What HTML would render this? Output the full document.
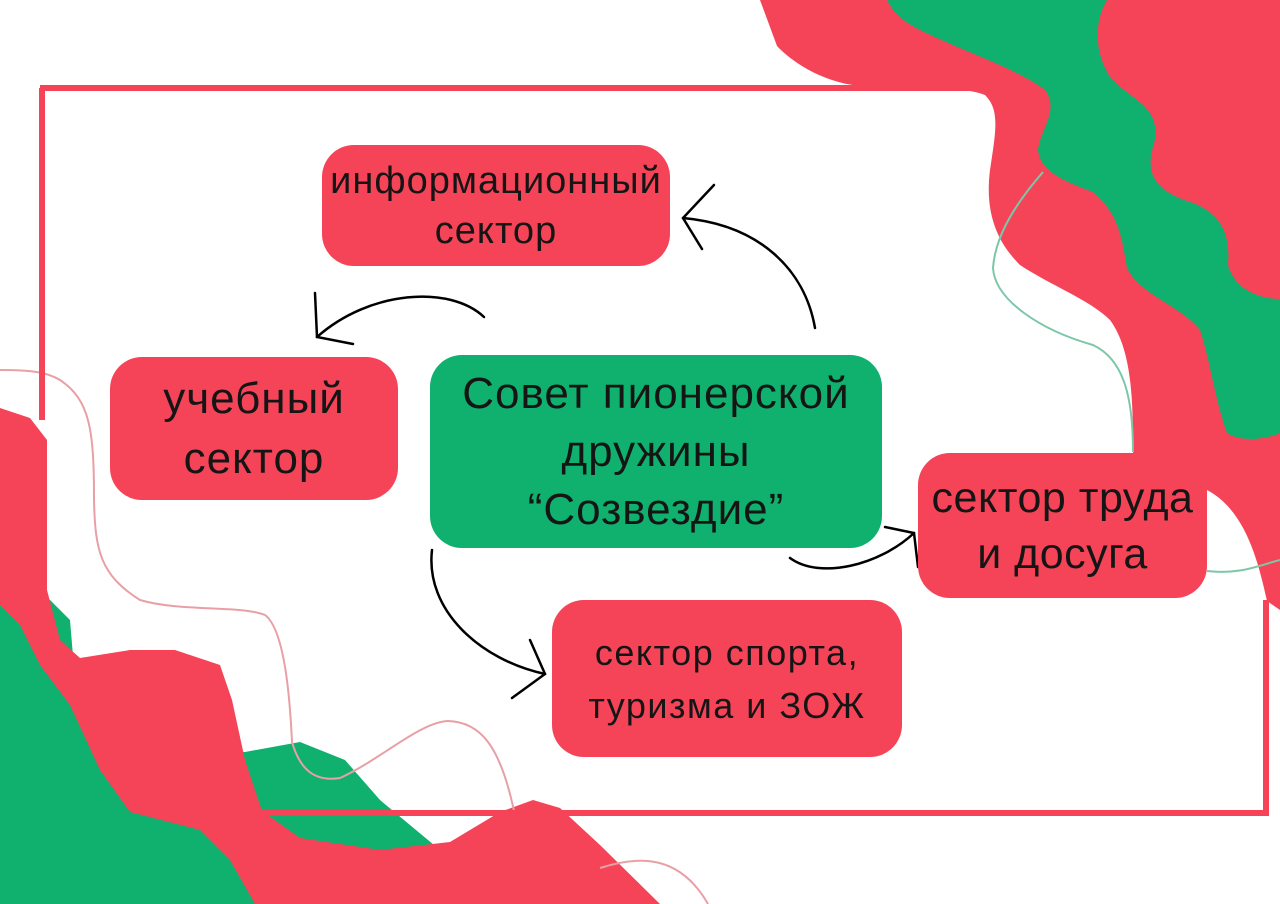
<!DOCTYPE html>
<html><head><meta charset="utf-8"><style>
html,body{margin:0;padding:0;background:#fff}
body{width:1280px;height:904px;position:relative;overflow:hidden;font-family:"Liberation Sans","DejaVu Sans",sans-serif}
.b{position:absolute;border-radius:32px;display:flex;align-items:center;justify-content:center;text-align:center;color:#151515;white-space:nowrap}
.r{background:#f54458}.g{background:#10b06f}
svg{position:absolute;left:0;top:0}
</style></head><body>
<svg width="1280" height="904" viewBox="0 0 1280 904">
<path d="M760,0 L1280,0 L1280,610 L1267,601 C1258,560 1245,510 1207,490 C1160,470 1135,470 1133,452 C1133,400 1132,350 1110,320 C1090,300 1050,285 1020,265 C995,240 985,210 990,170 C996,130 1000,110 985,95 C960,85 900,88 860,86 C820,82 790,60 777,46 Z" fill="#f54458"/>
<path d="M887,0 L1107,0 C1095,20 1093,50 1110,77 C1130,100 1160,105 1155,140 C1145,170 1150,190 1193,203 C1225,215 1230,240 1228,265 C1235,290 1260,299 1280,299 L1280,433 C1265,440 1240,442 1227,433 C1215,400 1210,360 1200,330 C1180,305 1140,295 1127,268 C1122,240 1120,215 1093,192 C1060,180 1040,170 1038,150 C1040,130 1060,110 1045,90 C1020,70 960,50 920,30 C900,20 892,10 887,0 Z" fill="#10b06f"/>
<path d="M1043,172 C1010,210 995,240 993,268 C995,300 1040,330 1093,345 C1125,360 1133,400 1133,452" fill="none" stroke="#7cc7a8" stroke-width="2"/>
<path d="M1207,571 C1240,575 1260,565 1280,560" fill="none" stroke="#7cc7a8" stroke-width="2"/>
<path d="M0,585 L40,590 L70,620 L75,680 L100,760 L245,752 L300,742 L345,760 L380,800 L440,850 L420,904 L0,904 Z" fill="#10b06f"/>
<path d="M0,408 L30,418 L47,440 L47,590 L60,640 L80,658 L130,650 L175,650 L220,665 L232,700 L245,760 L262,811 L300,838 L380,850 L450,842 L500,812 L533,800 L560,808 L600,845 L660,904 L255,904 L230,860 L200,830 L130,812 L100,770 L70,705 L40,665 L20,625 L0,605 Z" fill="#f54458"/>
<path d="M0,370 C30,370 47,372 60,380 C90,400 94,430 94,499 C95,550 100,575 140,600 C180,612 240,605 265,615 C285,630 290,700 292,742 C300,770 315,782 340,778 C380,760 420,722 448,721 C480,722 500,745 514,811" fill="none" stroke="#e8a0a6" stroke-width="2"/>
<path d="M600,868 C640,855 680,855 708,904" fill="none" stroke="#e8a0a6" stroke-width="2"/>
<path d="M40,88 L1000,88 M42,88 L42,420 M262,813 L1266,813 L1266,600" fill="none" stroke="#f54458" stroke-width="6"/>
<g fill="none" stroke="#000" stroke-width="2.5" stroke-linecap="round">
<path d="M815,328 C805,270 760,225 683,218"/><path d="M714,185 L683,218 L702,249"/>
<path d="M484,317 C450,285 370,290 317,337"/><path d="M315,293 L317,337 L353,344"/>
<path d="M432,550 C425,610 480,660 545,674"/><path d="M530,640 L545,674 L512,698"/>
<path d="M790,558 C820,580 880,565 914,533"/><path d="M885,527 L914,533 L918,567"/>
</g>
</svg>
<div class="b r" style="left:322px;top:145px;width:348px;height:121px;font-size:38px;line-height:50px;letter-spacing:1px">информационный<br>сектор</div>
<div class="b r" style="left:110px;top:357px;width:288px;height:143px;font-size:44px;line-height:60px;letter-spacing:1px">учебный<br>сектор</div>
<div class="b g" style="left:430px;top:355px;width:452px;height:193px;font-size:44px;line-height:58px;letter-spacing:1px">Совет пионерской<br>дружины<br>“Созвездие”</div>
<div class="b r" style="left:918px;top:453px;width:289px;height:145px;font-size:43px;line-height:56px;letter-spacing:0.5px">сектор труда<br>и досуга</div>
<div class="b r" style="left:552px;top:600px;width:350px;height:157px;font-size:36px;line-height:53px;letter-spacing:1.5px">сектор спорта,<br>туризма и ЗОЖ</div>
</body></html>
